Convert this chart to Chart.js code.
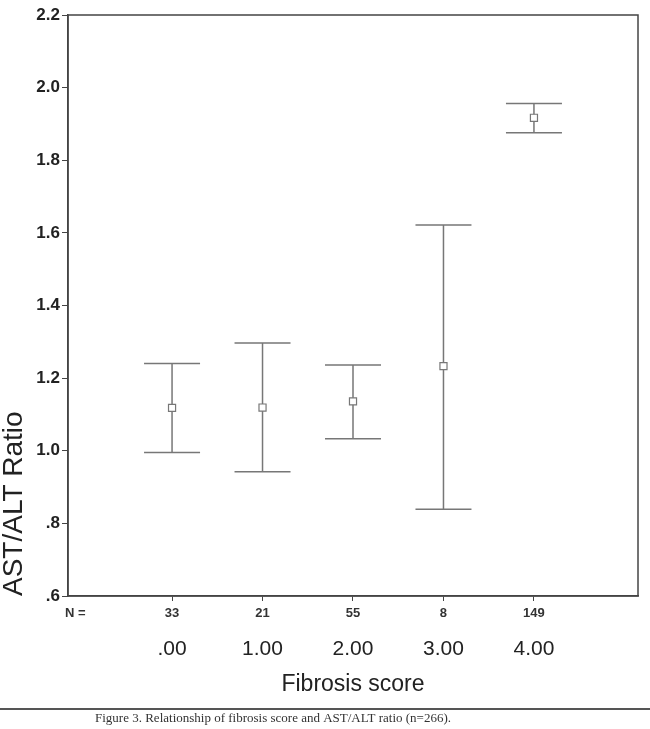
<!DOCTYPE html>
<html lang="en">
<head>
<meta charset="UTF-8">
<title>Fibrosis score and AST/ALT ratio</title>
<script src="https://cdn.jsdelivr.net/npm/chart.js"></script>
<style>
  body { margin: 0; background: #fff; }
</style>
</head>
<body>
<canvas id="errChart" width="650" height="729"></canvas>
<script>
// values
const categories = ['.00', '1.00', '2.00', '3.00', '4.00'];
const groupN = [33, 21, 55, 8, 149];
const means = [1.118, 1.119, 1.136, 1.233, 1.917];
const lowerCI = [0.995, 0.942, 1.033, 0.839, 1.876];
const upperCI = [1.240, 1.297, 1.236, 1.622, 1.956];
const yTicks = [0.6, 0.8, 1.0, 1.2, 1.4, 1.6, 1.8, 2.0, 2.2];

const narrow = '"Liberation Sans Narrow", "Liberation Sans", Arial, sans-serif';
const ink = '#444';

// error bars, box frame, N row and the caption
const extras = {
    id: 'extras',
    beforeDatasetsDraw(chart) {
        const ctx = chart.ctx;
        const x = chart.scales.x, y = chart.scales.y;
        ctx.save();
        ctx.strokeStyle = '#777';
        ctx.lineWidth = 1.5;
        for (let i = 0; i < categories.length; i++) {
            const px = x.getPixelForValue(i);
            const lo = y.getPixelForValue(lowerCI[i]);
            const hi = y.getPixelForValue(upperCI[i]);
            ctx.beginPath();
            ctx.moveTo(px, lo); ctx.lineTo(px, hi);
            ctx.moveTo(px - 28, lo); ctx.lineTo(px + 28, lo);
            ctx.moveTo(px - 28, hi); ctx.lineTo(px + 28, hi);
            ctx.stroke();
        }
        ctx.restore();
    },
    afterDraw(chart) {
        const ctx = chart.ctx;
        const a = chart.chartArea;
        const x = chart.scales.x;
        ctx.save();
        ctx.strokeStyle = ink;
        ctx.lineWidth = 1.5;
        ctx.strokeRect(a.left, a.top, a.right - a.left, a.bottom - a.top);

        ctx.fillStyle = '#333';
        ctx.textBaseline = 'middle';
        ctx.font = 'bold 13px ' + narrow;
        ctx.textAlign = 'left';
        ctx.fillText('N =', 65, 613);
        ctx.textAlign = 'center';
        for (let i = 0; i < groupN.length; i++) {
            ctx.fillText(String(groupN[i]), x.getPixelForValue(i), 613);
        }

        ctx.strokeStyle = '#555';
        ctx.lineWidth = 2;
        ctx.beginPath();
        ctx.moveTo(0, 709); ctx.lineTo(650, 709);
        ctx.stroke();

        ctx.textAlign = 'left';
        ctx.font = '13px "Liberation Serif", "Times New Roman", serif';
        ctx.fillStyle = '#333';
        ctx.fillText('Figure 3. Relationship of fibrosis score and AST/ALT ratio (n=266).', 95, 719);
        ctx.restore();
    }
};

new Chart(document.getElementById('errChart'), {
    type: 'scatter',
    data: {
        datasets: [{
            label: 'Mean',
            data: means.map((m, i) => ({ x: i, y: m })),
            pointStyle: 'rect',
            pointRadius: 5,
            pointBackgroundColor: '#fff',
            pointBorderColor: '#777',
            pointBorderWidth: 1.2
        }]
    },
    options: {
        responsive: false,
        animation: false,
        layout: { padding: { top: 15, right: 12, left: 0, bottom: 0 } },
        plugins: { legend: { display: false }, tooltip: { enabled: false } },
        scales: {
            x: {
                type: 'linear',
                min: -1.15,
                max: 5.15,
                afterBuildTicks: s => { s.ticks = categories.map((c, i) => ({ value: i })); },
                afterFit: s => { s.height = 133; },
                grid: { drawOnChartArea: false, drawTicks: true, tickLength: 5, color: ink },
                border: { color: ink, width: 1.5 },
                ticks: {
                    padding: 36,
                    maxRotation: 0,
                    autoSkip: false,
                    color: '#222',
                    font: { family: narrow, size: 21 },
                    callback: v => categories[v]
                },
                title: {
                    display: true,
                    text: 'Fibrosis score',
                    color: '#222',
                    font: { family: narrow, size: 23 },
                    padding: { top: 0, bottom: 31 }
                }
            },
            y: {
                min: 0.6,
                max: 2.2,
                afterBuildTicks: s => { s.ticks = yTicks.map(v => ({ value: v })); },
                afterFit: s => { s.width = 68; },
                grid: { drawOnChartArea: false, drawTicks: true, tickLength: 6, color: ink },
                border: { color: ink, width: 1.5 },
                ticks: {
                    padding: 2,
                    color: '#222',
                    font: { family: narrow, size: 17, weight: 'bold' },
                    callback: v => v < 1 ? String(v.toFixed(1)).slice(1) : v.toFixed(1)
                },
                title: {
                    display: true,
                    text: 'AST/ALT Ratio',
                    align: 'start',
                    color: '#222',
                    font: { family: 'Arial, "Liberation Sans", sans-serif', size: 28, lineHeight: 1 },
                    padding: 0
                }
            }
        }
    },
    plugins: [extras]
});
</script>
</body>
</html>
